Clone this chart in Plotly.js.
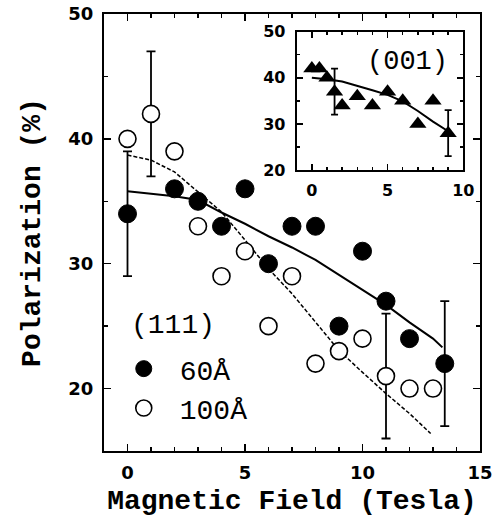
<!DOCTYPE html>
<html>
<head>
<meta charset="utf-8">
<script src="https://cdn.plot.ly/plotly-3.0.1.min.js"></script>
<style>html,body{margin:0;padding:0;background:#fff;}#chart{width:502px;height:521px;}</style>
</head>
<body>
<div id="chart"></div>
<script>
// ---- data ----
var field60 = [0, 2, 3, 4, 5, 6, 7, 8, 9, 10, 11, 12, 13.5];
var pol60   = [34, 36, 35, 33, 36, 30, 33, 33, 25, 31, 27, 24, 22];
var field100 = [0, 1, 2, 3, 4, 5, 6, 7, 8, 9, 10, 11, 12, 13];
var pol100   = [40, 42, 39, 33, 29, 31, 25, 29, 22, 23, 24, 21, 20, 20];

var err60X = [0, 13.5];
var err60Y = [34, 22];
var err60E = [5, 5];
var err100X = [1, 11];
var err100Y = [42, 21];
var err100E = [5, 5];

var fit60X = [0, 1, 2, 3, 4, 5, 6, 7, 8, 9, 10, 11, 12, 13, 13.4];
var fit60Y = [35.8, 35.6, 35.4, 35.1, 34.1, 33.2, 32.2, 31.3, 30.3, 29.1, 27.9, 26.7, 25.3, 24.0, 23.3];
var fit100X = [0, 1, 2, 3, 4, 5, 6, 7, 8, 9, 10, 11, 12, 12.9];
var fit100Y = [38.7, 38.3, 37.35, 35.75, 34.15, 31.9, 29.6, 27.6, 25.3, 23.05, 21.3, 19.6, 18.0, 16.4];

// inset (001)
var field001 = [0, 0.5, 1, 1.5, 2, 3, 4, 5, 6, 7, 8, 9];
var pol001   = [42, 42, 40, 37, 34, 36, 34, 37, 35, 30, 35, 28];
var err001X = [1.5, 9];
var err001Y = [37, 28];
var err001E = [5, 5];
var fit001X = [0, 1, 2, 3, 4, 5, 6, 7, 8, 9];
var fit001Y = [40.0, 39.7, 39.2, 38.3, 37.3, 36.3, 34.9, 32.8, 30.5, 28.4];

var mainXTicks = [0, 5, 10, 15];
var mainYTicks = [20, 30, 40, 50];
var insetXTicks = [0, 5, 10];
var insetYTicks = [20, 30, 40, 50];

// ---- traces ----
var tickFont = {family: 'DejaVu Sans, sans-serif', size: 18, color: '#000', weight: 'bold'};
var insetTickFont = {family: 'DejaVu Sans, sans-serif', size: 16, color: '#000', weight: 'bold'};
var monoFont = 'Liberation Mono, Courier New, monospace';

var traces = [
  {x: fit60X, y: fit60Y, mode: 'lines', line: {color: '#000', width: 2}, showlegend: false, hoverinfo: 'skip'},
  {x: fit100X, y: fit100Y, mode: 'lines', line: {color: '#000', width: 1.5, dash: '4px,2px'}, showlegend: false, hoverinfo: 'skip'},
  {x: err60X, y: err60Y, mode: 'markers', marker: {size: 1, color: 'rgba(0,0,0,0)'},
   error_y: {type: 'data', array: err60E, visible: true, color: '#000', thickness: 1.8, width: 4.5}, showlegend: false, hoverinfo: 'skip'},
  {x: err100X, y: err100Y, mode: 'markers', marker: {size: 1, color: 'rgba(0,0,0,0)'},
   error_y: {type: 'data', array: err100E, visible: true, color: '#000', thickness: 1.8, width: 4.5}, showlegend: false, hoverinfo: 'skip'},
  {x: field60, y: pol60, name: '60Å', mode: 'markers',
   marker: {symbol: 'circle', size: 18, color: '#000', line: {color: '#000', width: 1}}},
  {x: field100, y: pol100, name: '100Å', mode: 'markers',
   marker: {symbol: 'circle', size: 17, color: '#fff', line: {color: '#000', width: 1.6}}},
  // inset
  {x: fit001X, y: fit001Y, xaxis: 'x2', yaxis: 'y2', mode: 'lines', line: {color: '#000', width: 2}, showlegend: false, hoverinfo: 'skip'},
  {x: err001X, y: err001Y, xaxis: 'x2', yaxis: 'y2', mode: 'markers', marker: {size: 1, color: 'rgba(0,0,0,0)'},
   error_y: {type: 'data', array: err001E, visible: true, color: '#000', thickness: 1.8, width: 3.5}, showlegend: false, hoverinfo: 'skip'},
  {x: field001, y: pol001, xaxis: 'x2', yaxis: 'y2', mode: 'markers', name: '(001)', showlegend: false,
   marker: {symbol: 'triangle-up', size: 15, color: '#000'}}
];

function axisBase(extra) {
  var a = {
    showline: true, linecolor: '#000', linewidth: 2, mirror: 'ticks',
    ticks: 'inside', ticklen: 7, tickwidth: 1.5, tickcolor: '#000',
    showgrid: false, zeroline: false, fixedrange: true
  };
  for (var k in extra) a[k] = extra[k];
  return a;
}

var layout = {
  width: 502, height: 521,
  margin: {l: 104, r: 22, t: 14, b: 70},
  paper_bgcolor: '#fff', plot_bgcolor: '#fff',
  showlegend: true,
  legend: {
    x: 0.01, y: 0.245, xanchor: 'left', yanchor: 'top',
    bgcolor: 'rgba(0,0,0,0)', borderwidth: 0,
    font: {family: monoFont, size: 28, color: '#000'},
    itemwidth: 62, tracegroupgap: 0
  },
  xaxis: axisBase({
    range: [-1, 15], tickvals: mainXTicks, ticktext: mainXTicks.map(String),
    minor: {ticks: 'inside', ticklen: 4, tickwidth: 1.5, tickcolor: '#000', dtick: 1, tick0: 0, showgrid: false},
    tickfont: tickFont, ticklabelstandoff: 4, domain: [0, 1], anchor: 'y',
    title: {text: 'Magnetic Field (Tesla)', font: {family: monoFont, size: 28, color: '#000', weight: 'bold'}, standoff: 8}
  }),
  yaxis: axisBase({
    range: [15, 50], tickvals: mainYTicks, ticktext: mainYTicks.map(String),
    minor: {ticks: 'inside', ticklen: 4, tickwidth: 1.5, tickcolor: '#000', dtick: 5, tick0: 0, showgrid: false},
    tickfont: tickFont, ticklabelstandoff: 5, domain: [0, 1], anchor: 'x',
    title: {text: 'Polarization (%)', font: {family: monoFont, size: 28, color: '#000', weight: 'bold'}, standoff: 20}
  }),
  xaxis2: axisBase({
    range: [-1, 10], tickvals: insetXTicks, ticktext: insetXTicks.map(String),
    minor: {ticks: 'inside', ticklen: 3, tickwidth: 1.5, tickcolor: '#000', dtick: 1, tick0: 0, showgrid: false},
    ticklen: 6, tickfont: insetTickFont, ticklabelstandoff: 5, domain: [0.5125, 0.9556], anchor: 'y2'
  }),
  yaxis2: axisBase({
    range: [20, 50], tickvals: insetYTicks, ticktext: insetYTicks.map(String),
    minor: {ticks: 'inside', ticklen: 3, tickwidth: 1.5, tickcolor: '#000', dtick: 5, tick0: 0, showgrid: false},
    ticklen: 6, tickfont: insetTickFont, ticklabelstandoff: 6, domain: [0.643, 0.9595], anchor: 'x2'
  }),
  annotations: [
    {text: '(111)', xref: 'paper', yref: 'paper', x: 0.1835, y: 0.288, xanchor: 'center', yanchor: 'middle',
     showarrow: false, font: {family: monoFont, size: 28, color: '#000'}},
    {text: '(001)', xref: 'paper', yref: 'paper', x: 0.807, y: 0.891, xanchor: 'center', yanchor: 'middle',
     showarrow: false, font: {family: monoFont, size: 27, color: '#000'}}
  ]
};

Plotly.newPlot('chart', traces, layout, {displayModeBar: false, staticPlot: true});
</script>
</body>
</html>
